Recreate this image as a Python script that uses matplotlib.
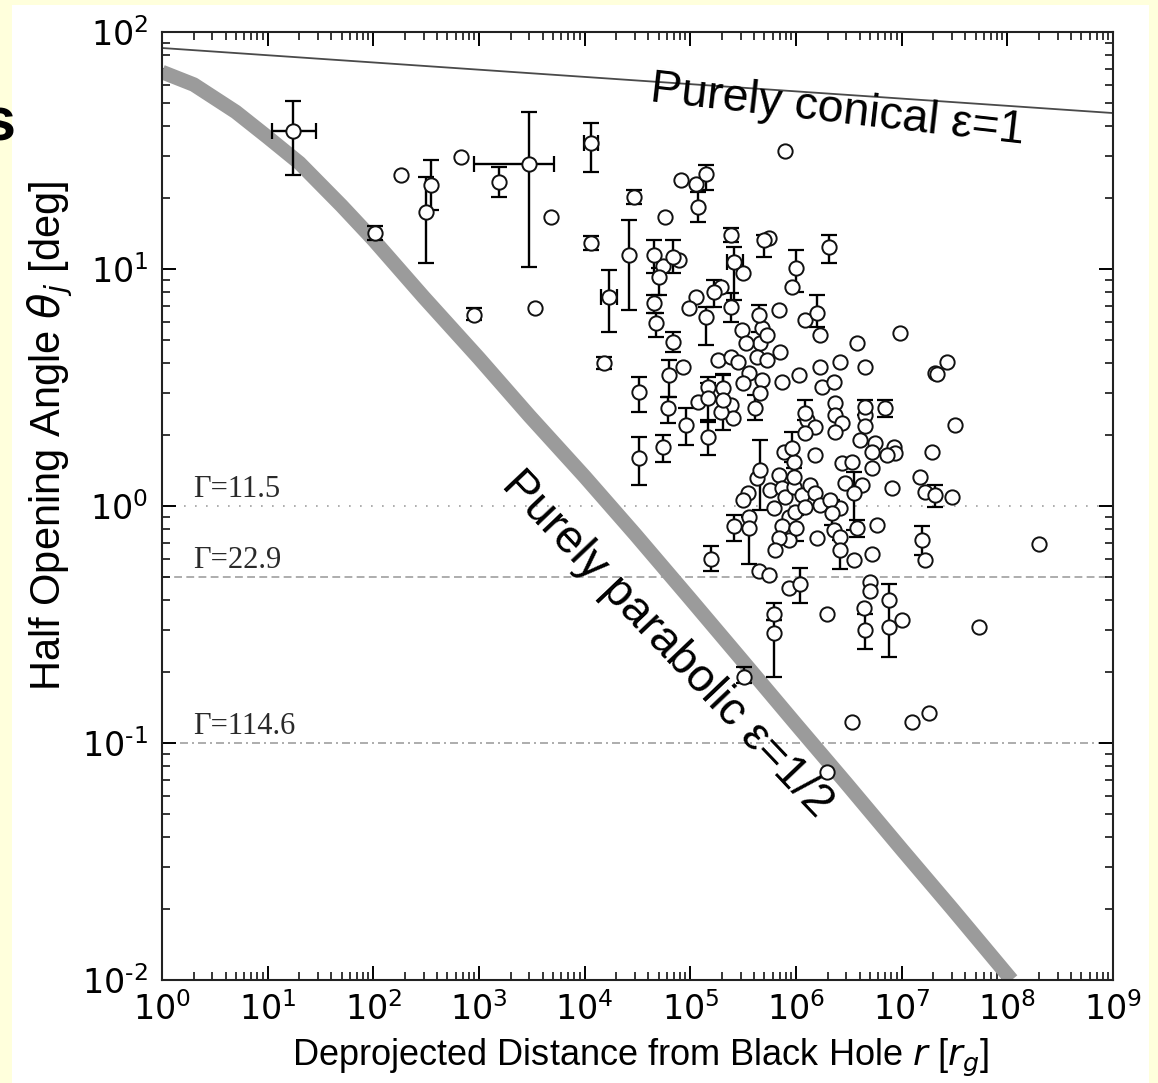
import numpy as np
import matplotlib
matplotlib.use("Agg")
import matplotlib.pyplot as plt
from matplotlib.patches import Rectangle
from matplotlib.ticker import LogLocator, NullFormatter, FuncFormatter

plt.rcParams['mathtext.fontset'] = 'dejavusans'
plt.rcParams['axes.unicode_minus'] = False

# ---------------- data ----------------
# points with vertical error bars: distance r [r_g], angle, lower, upper [deg]
r_err = [17.5, 103, 349, 313, 1540, 2970, 893, 11500, 11500, 26400, 17000, 15300,
         32800, 32800, 142000, 119000, 29400, 45500, 69000, 50800, 45500, 47500,
         69000, 63200, 245000, 261000, 245000, 169000, 142000, 442000, 493000,
         1.01e6, 2.04e6, 1.57e6, 148000, 206000, 61800, 55500, 91600, 148000,
         148000, 206000, 405000, 1.21e6, 4.48e6, 6.93e6, 908000, 452000, 949000,
         2.18e6, 3.52e6, 261000, 363000, 1.01e6, 2.59e6, 3.76e6, 1.56e7, 2.07e7,
         158000, 1.08e6, 613000, 613000, 7.56e6, 4.48e6, 325000]
th_err = [38.2, 14.2, 22.6, 17.4, 23.3, 27.7, 6.4, 34.0, 12.9, 11.5, 7.62, 4.01,
          3.03, 1.60, 25.2, 18.3, 20.1, 11.5, 11.2, 9.25, 7.19, 5.92,
          4.92, 3.57, 13.9, 10.7, 6.92, 8.0, 6.27, 6.40, 13.3,
          10.1, 12.4, 6.52, 3.18, 3.15, 2.59, 1.77, 2.20, 2.86,
          1.96, 2.80, 2.59, 2.47, 2.62, 2.59, 1.76, 1.42, 1.33,
          0.93, 1.13, 0.82, 0.81, 0.81, 0.65, 0.81, 0.72, 1.11,
          0.60, 0.47, 0.35, 0.29, 0.40, 0.30, 0.19]
th_lo = [24.9, 13.3, 17.7, 10.6, 20.1, 10.2, 6.09, 25.7, 12.0, 6.71, 5.42, 3.78,
         2.49, 1.23, 21.5, 15.8, 18.8, 9.6, 9.6, 7.77, 6.52, 5.16,
         4.47, 2.88, 13.0, 7.40, 5.97, 6.92, 4.78, 5.42, 11.2,
         8.0, 10.6, 5.69, 2.88, 2.80, 2.24, 1.53, 1.81, 2.26,
         1.64, 2.09, 2.31, 2.31, 2.42, 2.37, 1.53, 0.96, 1.17,
         0.83, 0.79, 0.71, 0.57, 0.71, 0.54, 0.74, 0.62, 0.99,
         0.53, 0.39, 0.33, 0.19, 0.23, 0.25, 0.18]
th_hi = [51.2, 15.2, 28.8, 24.4, 26.9, 46.0, 6.84, 41.3, 13.8, 16.1, 9.9, 4.25,
         3.50, 1.96, 27.5, 21.1, 21.5, 13.3, 13.3, 10.1, 7.77, 6.52,
         5.42, 4.13, 14.9, 12.4, 7.92, 8.99, 6.92, 7.05, 13.9,
         12.0, 13.9, 7.77, 3.50, 3.61, 2.88, 1.99, 2.59, 3.30,
         2.31, 3.57, 2.94, 2.80, 2.80, 2.80, 2.05, 1.90, 1.45,
         1.06, 1.39, 0.92, 0.90, 0.92, 0.72, 0.87, 0.82, 1.23,
         0.68, 0.55, 0.39, 0.33, 0.47, 0.35, 0.21]

# points with horizontal error bars
r_xe = [17.5, 2970, 11500, 17000, 261000]
th_xe = [38.2, 27.7, 34.0, 7.62, 10.7]
r_xlo = [11.1, 893, 9870, 14300, 220000]
r_xhi = [28.9, 5130, 13400, 20300, 318000]

# points without error bars
r_plain = [181, 672, 4800, 3380, 780000, 82200, 114000, 57900, 78700, 55500,
           85900, 318000, 197000, 114000, 97900, 305000, 472000, 452000, 340000, 526000,
           684000, 698000, 550000, 908000, 1.21e6, 1.67e6, 3.76e6, 184000, 245000, 285000,
           423000, 526000, 363000, 472000, 318000, 730000, 1.06e6, 1.67e6, 1.75e6, 2.27e6,
           2.59e6, 119000, 245000, 256000, 197000, 452000, 1.26e6, 1.50e6, 1.21e6, 2.32e6,
           2.32e6, 2.71e6, 2.32e6, 4.48e6, 4.48e6, 4.01e6, 5.57e6, 5.21e6, 8.43e6, 8.61e6,
           7.24e6, 1.94e7, 2.07e7, 762000, 949000, 1.50e6, 423000, 355000, 318000, 684000,
           562000, 730000, 780000, 949000, 1.13e6, 1.35e6, 1.50e6, 613000, 851000, 970000,
           1.21e6, 1.67e6, 2.59e6, 2.89e6, 4.19e6, 5.21e6, 2.71e6, 3.37e6, 363000, 730000,
           851000, 684000, 627000, 1.57e6, 2.27e6, 2.59e6, 3.52e6, 5.21e6, 5.82e6, 1.66e7,
           1.49e7, 1.66e7, 442000, 550000, 851000, 1.95e6, 4.99e6, 4.99e6, 4.38e6, 7.56e6,
           1.00e7, 9.61e6, 4.48e6, 2.69e7, 2.16e7, 3.20e7, 8.07e6, 2.99e7, 2.08e6, 2.00e8,
           3.37e6, 1.25e7, 1.81e7, 1.95e6, 5.40e7]
th_plain = [24.9, 29.7, 16.6, 6.84, 31.5, 23.7, 22.8, 16.6, 10.9, 10.3,
            3.86, 9.6, 8.4, 7.62, 6.84, 5.53, 5.64, 4.87, 4.87, 5.27,
            6.71, 4.47, 13.5, 8.4, 6.09, 5.27, 4.87, 4.13, 4.25, 4.05,
            4.25, 4.13, 3.64, 3.40, 3.30, 3.34, 3.57, 3.86, 3.18, 3.34,
            4.05, 2.75, 2.67, 2.35, 2.49, 3.00, 2.31, 2.15, 2.03, 2.72,
            2.42, 2.24, 2.05, 2.42, 2.18, 1.90, 1.84, 1.69, 1.77, 1.67,
            1.64, 1.69, 3.64, 1.69, 1.53, 1.64, 1.31, 1.13, 1.06, 1.35,
            1.17, 1.19, 1.09, 1.20, 1.11, 1.23, 1.13, 0.98, 0.90, 0.94,
            0.99, 1.01, 0.98, 1.25, 1.23, 1.45, 1.52, 1.53, 0.90, 0.82,
            0.72, 0.73, 0.65, 0.73, 0.79, 0.74, 0.59, 0.63, 0.83, 0.59,
            1.33, 1.15, 0.53, 0.51, 0.45, 0.35, 0.48, 0.44, 0.37, 0.31,
            0.33, 5.37, 3.86, 4.05, 3.61, 2.20, 1.19, 1.09, 1.06, 0.69,
            0.123, 0.123, 0.134, 0.0755, 0.31]

# model curves
r_conical = [1.0, 1e9]
th_conical = [85.6, 45.5]
r_parabolic = [1.0, 2.0, 5.0, 10.0, 20.0, 50.0, 100.0, 300.0, 1e3, 3e3, 1e4, 3e4,
               1e5, 3e5, 1e6, 3e6, 1e7, 3e7, 1.1e8]
th_parabolic = [67.8, 60.0, 46.0, 36.0, 28.0, 18.5, 13.3, 7.6, 4.2, 2.4, 1.33, 0.76,
                0.405, 0.227, 0.120, 0.0675, 0.0356, 0.0200, 0.0100]

# bulk Lorentz factor reference levels
gamma_labels = ["Γ=11.5", "Γ=22.9", "Γ=114.6"]
gamma_theta = [1.0, 0.5, 0.1]


def decade_label(v, pos):
    k = int(round(np.log10(v)))
    if k < 0:
        return r'$\mathdefault{10^{\text{-}%d}}$' % (-k)
    return r'$\mathdefault{10^{%d}}$' % k


# ---------------- figure ----------------
W, H = 1158, 1083
fig = plt.figure(figsize=(W / 100, H / 100), dpi=100, facecolor='#FFFFDC')
fig.patches.append(Rectangle((12 / W, 0), (1149 - 12) / W, 1078 / H,
                             transform=fig.transFigure, facecolor='white',
                             edgecolor='none', zorder=-10))
fig.text(-0.016, 0.870, 's', fontsize=44, fontweight='bold',
         family='Liberation Sans', color='black')

ax = fig.add_axes([162 / W, (H - 980) / H, (1113 - 162) / W, (980 - 32) / H])
ax.set_xscale('log')
ax.set_yscale('log')
ax.set_xlim(1, 1e9)
ax.set_ylim(0.01, 100)

# reference lines
styles = [(0, (1.0, 5.6)), (0, (4.7, 2.6)), (0, (4.8, 2.4, 1.2, 2.4))]
for lab, th, ls in zip(gamma_labels, gamma_theta, styles):
    ax.axhline(th, color='#a0a0a0', lw=1.2, linestyle=ls, zorder=1)
    ax.annotate(lab, xy=(1.97, th), xytext=(0, 6.5), textcoords='offset points',
                ha='left', va='baseline', fontsize=22, family='Liberation Serif',
                color='#2a2a2a')

ax.plot(r_parabolic, th_parabolic, color='#9b9b9b', lw=10.5,
        solid_capstyle='butt', solid_joinstyle='round', zorder=2)
ax.plot(r_conical, th_conical, color='#4a4a4a', lw=1.3, zorder=2)

# error bars
th_err_a = np.array(th_err)
yerr = np.vstack([th_err_a - np.array(th_lo), np.array(th_hi) - th_err_a])
ax.errorbar(r_err, th_err, yerr=yerr, fmt='none', ecolor='black', elinewidth=1.7,
            capsize=6, capthick=1.6, zorder=3)
r_xe_a = np.array(r_xe)
xerr = np.vstack([r_xe_a - np.array(r_xlo), np.array(r_xhi) - r_xe_a])
ax.errorbar(r_xe, th_xe, xerr=xerr, fmt='none', ecolor='black', elinewidth=1.7,
            capsize=6, capthick=1.6, zorder=3)

mk = dict(linestyle='none', marker='o', markersize=10.3, markerfacecolor='white',
          markeredgecolor='#111111', markeredgewidth=1.4, zorder=4)
ax.plot(r_plain, th_plain, **mk)
ax.plot(r_err, th_err, **mk)

# annotations
ax.text(2.45e6, 46.6, 'Purely conical ε=1', fontsize=33.5, family='Liberation Sans',
        rotation=-6.5, rotation_mode='anchor', ha='center', va='center')
ax.text(60000, 0.262, 'Purely parabolic ε=1/2', fontsize=33.5, family='Liberation Sans',
        rotation=-46.5, rotation_mode='anchor', ha='center', va='center')

# axes styling
ax.xaxis.set_major_locator(LogLocator(base=10, numticks=20))
ax.xaxis.set_minor_locator(LogLocator(base=10, subs=np.arange(2, 10), numticks=20))
ax.yaxis.set_major_locator(LogLocator(base=10, numticks=20))
ax.yaxis.set_minor_locator(LogLocator(base=10, subs=np.arange(2, 10), numticks=20))
ax.xaxis.set_major_formatter(FuncFormatter(decade_label))
ax.yaxis.set_major_formatter(FuncFormatter(decade_label))
ax.xaxis.set_minor_formatter(NullFormatter())
ax.yaxis.set_minor_formatter(NullFormatter())
ax.tick_params(which='both', direction='in', top=True, right=True, colors='black')
ax.tick_params(which='major', length=10, width=1.4, labelsize=24)
ax.tick_params(which='minor', length=6, width=1.1)
ax.tick_params(axis='x', which='major', pad=9)
ax.tick_params(axis='y', which='major', pad=10)
for s in ax.spines.values():
    s.set_linewidth(1.5)
    s.set_color('#222222')

ax.set_xlabel('Deprojected Distance from Black Hole $r$ [$r_g$]', fontsize=26,
              family=['Liberation Sans', 'DejaVu Sans'])
ax.xaxis.set_label_coords(0.503, -0.060)
ax.set_ylabel('Half Opening Angle $\\theta_j$ [deg]', fontsize=30,
              family=['Liberation Sans', 'DejaVu Sans'])
ax.yaxis.set_label_coords(-0.091, 0.574)

fig.savefig('out.png', dpi=100, facecolor=fig.get_facecolor())
